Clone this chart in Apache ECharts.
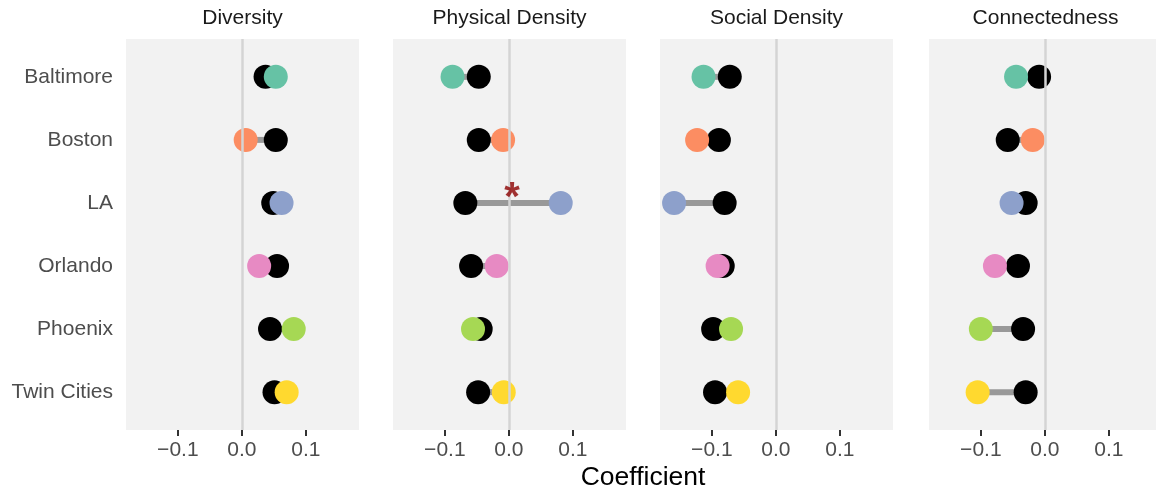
<!DOCTYPE html>
<html>
<head>
<meta charset="utf-8">
<script src="https://cdn.jsdelivr.net/npm/echarts@6/dist/echarts.min.js"></script>
<style>html,body{margin:0;padding:0;background:#fff}#c{width:1156px;height:495px}</style>
</head>
<body>
<div id="c"></div>
<script>
const cities = ['Baltimore', 'Boston', 'LA', 'Orlando', 'Phoenix', 'Twin Cities'];
const panels = ['Diversity', 'Physical Density', 'Social Density', 'Connectedness'];
const cityColors = ['#66C2A5', '#FC8D62', '#8DA0CB', '#E78AC3', '#A6D854', '#FFD92F'];
const xTicks = [-0.1, 0, 0.1];

// black = pooled estimate, city = city-specific estimate
const diversityBlack = [0.037, 0.053, 0.049, 0.055, 0.044, 0.051];
const diversityCity = [0.053, 0.006, 0.062, 0.027, 0.081, 0.070];
const physicalBlack = [-0.047, -0.047, -0.068, -0.059, -0.044, -0.048];
const physicalCity = [-0.088, -0.009, 0.081, -0.019, -0.056, -0.008];
const socialBlack = [-0.072, -0.089, -0.080, -0.083, -0.098, -0.095];
const socialCity = [-0.113, -0.123, -0.159, -0.091, -0.070, -0.059];
const connectedBlack = [-0.009, -0.058, -0.030, -0.042, -0.034, -0.030];
const connectedCity = [-0.045, -0.019, -0.052, -0.078, -0.100, -0.105];

// significance markers: panel index, x position, city
const sigPanel = [1];
const sigX = [0.005];
const sigCity = ['LA'];

const blackVals = [diversityBlack, physicalBlack, socialBlack, connectedBlack];
const cityVals = [diversityCity, physicalCity, socialCity, connectedCity];

const FONT = 'Liberation Sans, Arial, Helvetica, sans-serif';
const gridLeft = [126, 393, 660, 929];
const gridTop = 39, gridW = 233, gridH = 391;

const fmt = v => {
  const a = Math.abs(v).toFixed(1);
  return v < -1e-9 ? '\u2212' + a : a;
};

const grids = [], xAxes = [], yAxes = [], series = [], titles = [];
panels.forEach((p, k) => {
  grids.push({left: gridLeft[k], top: gridTop, width: gridW, height: gridH,
    show: true, backgroundColor: '#f2f2f2', borderWidth: 0, outerBoundsMode: 'none'});
  xAxes.push({type: 'value', gridIndex: k, min: -0.181, max: 0.183, z: 10,
    axisLine: {show: false, onZero: false},
    splitLine: {show: false},
    axisTick: {show: true, customValues: xTicks, length: 6, lineStyle: {color: '#333333', width: 2}},
    axisLabel: {customValues: xTicks, formatter: fmt, color: '#4d4d4d', fontSize: 21,
      fontFamily: FONT, margin: 10}});
  yAxes.push({type: 'value', gridIndex: k, inverse: true, min: -0.6, max: 5.6,
    axisLine: {show: false, onZero: false}, splitLine: {show: false}, axisTick: {show: false},
    axisLabel: {show: k === 0, customValues: [0, 1, 2, 3, 4, 5],
      formatter: v => cities[Math.round(v)], color: '#4d4d4d', fontSize: 21,
      fontFamily: FONT, margin: 13}});
  titles.push({text: p, left: gridLeft[k] + gridW / 2, top: 8, textAlign: 'center', padding: 0,
    textStyle: {fontSize: 21, fontWeight: 'normal', color: '#1a1a1a', fontFamily: FONT}});

  // zero reference line
  series.push({type: 'line', xAxisIndex: k, yAxisIndex: k, data: [], z: 1, silent: true,
    markLine: {silent: true, symbol: 'none', label: {show: false},
      lineStyle: {color: '#d4d4d4', width: 2.5, type: 'solid'}, data: [{xAxis: 0}]}});

  // connecting segments
  series.push({type: 'custom', xAxisIndex: k, yAxisIndex: k, z: 2, silent: true,
    data: cities.map((c, i) => [blackVals[k][i], cityVals[k][i], i]),
    encode: {x: [0, 1], y: 2},
    renderItem: (params, api) => {
      const a = api.coord([api.value(0), api.value(2)]);
      const b = api.coord([api.value(1), api.value(2)]);
      return {type: 'line', shape: {x1: a[0], y1: a[1], x2: b[0], y2: b[1]},
        style: {stroke: '#999999', lineWidth: 6}};
    }});

  // pooled (black) points
  series.push({type: 'scatter', xAxisIndex: k, yAxisIndex: k, z: 3, symbolSize: 24,
    itemStyle: {color: '#000', opacity: 1},
    data: cities.map((c, i) => [blackVals[k][i], i])});

  // city points
  series.push({type: 'scatter', xAxisIndex: k, yAxisIndex: k, z: 4, symbolSize: 24,
    data: cities.map((c, i) => ({value: [cityVals[k][i], i], itemStyle: {color: cityColors[i], opacity: 1}}))});
});

// significance asterisks
series.push({type: 'scatter', xAxisIndex: sigPanel[0], yAxisIndex: sigPanel[0], z: 5,
  symbolSize: 1, itemStyle: {color: 'rgba(0,0,0,0)'}, silent: true,
  data: sigX.map((x, j) => [x, cities.indexOf(sigCity[j])]),
  label: {show: true, formatter: '*', position: 'top', distance: -17, color: '#8B0000',
    fontSize: 40, fontWeight: 'bold', fontFamily: FONT}});

titles.push({text: 'Coefficient', left: 643, top: 464, textAlign: 'center', padding: 0,
  textStyle: {fontSize: 26.5, fontWeight: 'normal', color: '#000', fontFamily: FONT}});

const chart = echarts.init(document.getElementById('c'), null, {renderer: 'canvas'});
chart.setOption({
  animation: false,
  backgroundColor: '#ffffff',
  title: titles,
  grid: grids,
  xAxis: xAxes,
  yAxis: yAxes,
  series: series
});
</script>
</body>
</html>
